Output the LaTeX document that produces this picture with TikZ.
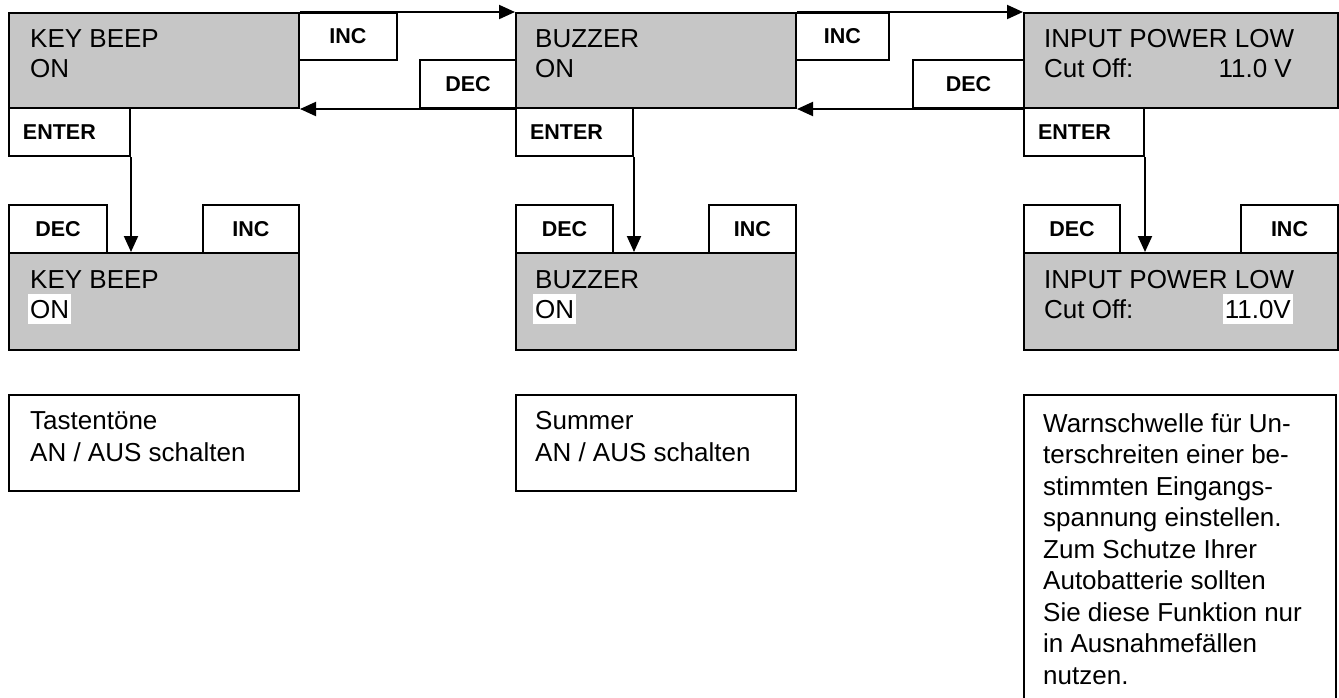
\documentclass[tikz,border=0pt]{standalone}
\usepackage{fontspec}
\setmainfont{Liberation Sans}
\usetikzlibrary{arrows.meta}

\definecolor{lcdgray}{RGB}{198,198,198}

\tikzset{
  screen/.style={draw, fill=lcdgray, line width=2pt, anchor=north west, inner sep=0pt},
  key/.style={draw, fill=white, line width=2pt, anchor=north west, inner sep=0pt,
    font=\bfseries\fontsize{21.5}{25}\selectfont},
  enterkey/.style={key, align=left, inner xsep=14pt},
  note/.style={draw, line width=2pt, anchor=north west, inner sep=0pt},
  txt/.style={anchor=base west, inner sep=0pt, font=\fontsize{26}{31}\selectfont},
  hl/.style={fill=white, inner xsep=2pt, inner ysep=0pt, text height=24pt, text depth=6pt},
  arr/.style={line width=2pt, -{Triangle[length=16pt, width=14pt]}}
}

\begin{document}
\begin{tikzpicture}[x=1pt, y=-1pt]
  \useasboundingbox (0,0) rectangle (1339,697);
  \clip (0,0) rectangle (1339,697);

  % Column A: key beep
  \node[screen, minimum width=290pt, minimum height=95pt] (scrA) at (8,12) {};
  \node[key, minimum width=98pt, minimum height=47pt] (incA) at (298,12) {INC};
  \node[key, minimum width=96pt, minimum height=48pt] (decA) at (419,59) {DEC};
  \node[enterkey, minimum width=121pt, text width=93pt, minimum height=48pt] (entA) at (8,107) {ENTER};
  \node[key, minimum width=98pt, minimum height=48pt] (ldecA) at (8,204) {DEC};
  \node[key, minimum width=96pt, minimum height=48pt] (lincA) at (202,204) {INC};
  \node[screen, minimum width=290pt, minimum height=97pt] (lowA) at (8,252) {};
  \node[note, minimum width=290pt, minimum height=96pt] (noteA) at (8,394) {};

  % Column B: buzzer
  \node[screen, minimum width=280pt, minimum height=95pt] (scrB) at (515,12) {};
  \node[key, minimum width=93pt, minimum height=47pt] (incB) at (795,12) {INC};
  \node[key, minimum width=111pt, minimum height=48pt] (decB) at (912,59) {DEC};
  \node[enterkey, minimum width=117pt, text width=89pt, minimum height=48pt] (entB) at (515,107) {ENTER};
  \node[key, minimum width=97pt, minimum height=48pt] (ldecB) at (515,204) {DEC};
  \node[key, minimum width=87pt, minimum height=48pt] (lincB) at (708,204) {INC};
  \node[screen, minimum width=280pt, minimum height=97pt] (lowB) at (515,252) {};
  \node[note, minimum width=280pt, minimum height=96pt] (noteB) at (515,394) {};

  % Column C: input power low
  \node[screen, minimum width=314pt, minimum height=95pt] (scrC) at (1023,12) {};
  \node[enterkey, minimum width=120pt, text width=92pt, minimum height=48pt] (entC) at (1023,107) {ENTER};
  \node[key, minimum width=96pt, minimum height=48pt] (ldecC) at (1023,204) {DEC};
  \node[key, minimum width=97pt, minimum height=48pt] (lincC) at (1240,204) {INC};
  \node[screen, minimum width=314pt, minimum height=97pt] (lowC) at (1023,252) {};
  \node[note, minimum width=312pt, minimum height=330pt] (noteC) at (1023,394) {};

  % Arrows between the screens
  \draw[arr] (scrA.north east) -- (scrB.north west);
  \draw[arr] (scrB.north east) -- (scrC.north west);
  \draw[arr] (scrB.south west) -- (scrA.south east);
  \draw[arr] (scrC.south west) -- (scrB.south east);
  \foreach \c in {A,B,C}
    \draw[arr] (ent\c.south east) -- (ent\c.south east |- low\c.north);

  % Display texts
  \node[txt] (tA1) at (30,47) {KEY BEEP};
  \node[txt] (tA2) at (30,77) {ON};
  \node[txt] (uA1) at (30,288) {KEY BEEP};
  \node[txt, hl] (uA2) at (28,318) {ON};
  \node[txt] (tB1) at (535,47) {BUZZER};
  \node[txt] (tB2) at (535,77) {ON};
  \node[txt] (uB1) at (535,288) {BUZZER};
  \node[txt, hl] (uB2) at (533,318) {ON};
  \node[txt] (tC1) at (1044,47) {INPUT POWER LOW};
  \node[txt] (tC2) at (1044,77) {Cut Off:};
  \node[txt, anchor=base east] (tC3) at (1292,77) {11.0 V};
  \node[txt] (uC1) at (1044,288) {INPUT POWER LOW};
  \node[txt] (uC2) at (1044,318) {Cut Off:};
  \node[txt, hl, anchor=base east] (uC3) at (1293,318) {11.0V};

  % Notes
  \node[txt] (nA1) at (30,429) {Tastentöne};
  \node[txt] (nA2) at (30,461) {AN / AUS schalten};
  \node[txt] (nB1) at (535,429) {Summer};
  \node[txt] (nB2) at (535,461) {AN / AUS schalten};
  \foreach \l [count=\i] in {Warnschwelle für Un-, terschreiten einer be-,
      stimmten Eingangs-, spannung einstellen., Zum Schutze Ihrer,
      Autobatterie sollten, Sie diese Funktion nur, in Ausnahmefällen, nutzen.}
    \node[txt] (nC\i) at (1043,{432+31.5*(\i-1)}) {\l};
\end{tikzpicture}
\end{document}
